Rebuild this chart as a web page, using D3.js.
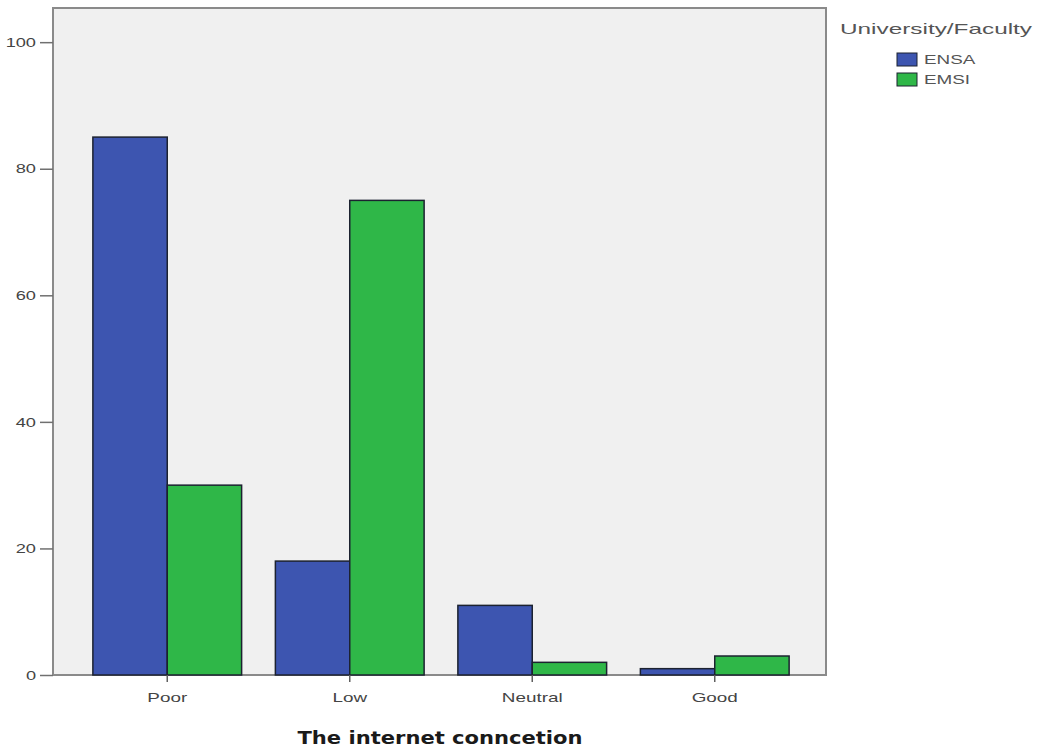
<!DOCTYPE html>
<html>
<head>
<meta charset="utf-8">
<script src="https://cdn.jsdelivr.net/npm/d3@7"></script>
<style>
  html, body { margin: 0; padding: 0; background: #ffffff; }
  svg { display: block; }
</style>
</head>
<body>
<svg id="chart" width="1037" height="751"></svg>
<script>
// Internet connection quality by university/faculty (counts)
const categories = ["Poor", "Low", "Neutral", "Good"];
const seriesNames = ["ENSA", "EMSI"];
const ensaValues = [85, 18, 11, 1];
const emsiValues = [30, 75, 2, 3];
const yTicks = [0, 20, 40, 60, 80, 100];
const colors = ["#3d55b0", "#2fb748"];
const legendTitle = "University/Faculty";
const xTitle = "The internet conncetion";

const rows = categories.map((c, i) => ({ category: c, values: [ensaValues[i], emsiValues[i]] }));

const svg = d3.select("#chart");
const frame = { left: 53, right: 826, top: 8, bottom: 675 };

// widen text horizontally (the chart's labels use a wide rendering)
function stretch(sel, k) {
  sel.each(function () {
    const w = this.getComputedTextLength();
    d3.select(this).attr("textLength", w * k).attr("lengthAdjust", "spacingAndGlyphs");
  });
}

const y = d3.scaleLinear().domain([0, 105.4]).range([frame.bottom, frame.top]);
const x = d3.scaleBand().domain(categories).range([76, 806]).paddingInner(0.185).paddingOuter(0.0925);
const xs = d3.scaleBand().domain(seriesNames).range([0, x.bandwidth()]);

// plot background and frame
svg.append("rect")
  .attr("x", frame.left).attr("y", frame.top)
  .attr("width", frame.right - frame.left).attr("height", frame.bottom - frame.top)
  .attr("fill", "#f0f0f0")
  .attr("stroke", "#8a8a8a").attr("stroke-width", 2);

// bars
const groups = svg.append("g").selectAll("g").data(rows).join("g")
  .attr("transform", d => `translate(${x(d.category)},0)`);
groups.selectAll("rect").data(d => d.values.map((v, i) => ({ v, i }))).join("rect")
  .attr("x", d => xs(seriesNames[d.i]))
  .attr("y", d => y(d.v))
  .attr("width", xs.bandwidth())
  .attr("height", d => y(0) - y(d.v))
  .attr("fill", d => colors[d.i])
  .attr("stroke", "#1c2230").attr("stroke-width", 1.5);

// y axis
const yAxis = svg.append("g")
  .attr("transform", `translate(${frame.left},0)`)
  .call(d3.axisLeft(y).tickValues(yTicks).tickSize(13).tickPadding(4).tickSizeOuter(0));
yAxis.select(".domain").remove();
yAxis.selectAll("line").attr("stroke", "#707070").attr("stroke-width", 1.5);
yAxis.selectAll("text")
  .attr("font-family", "Liberation Sans, Arial, sans-serif")
  .attr("font-size", 13).attr("fill", "#444")
  .call(stretch, 1.4);

// x axis
const xAxis = svg.append("g")
  .attr("transform", `translate(0,${frame.bottom})`)
  .call(d3.axisBottom(x).tickSize(7).tickSizeOuter(0));
xAxis.select(".domain").remove();
xAxis.selectAll("line").attr("stroke", "#606060").attr("stroke-width", 1.5);
xAxis.selectAll("text")
  .attr("font-family", "Liberation Sans, Arial, sans-serif")
  .attr("font-size", 13).attr("fill", "#444").attr("dy", "1.3em")
  .call(stretch, 1.45);

// x axis title
svg.append("text")
  .attr("x", 440).attr("y", 744)
  .attr("text-anchor", "middle")
  .attr("font-family", "DejaVu Sans, sans-serif")
  .attr("font-weight", "bold").attr("font-size", 18).attr("fill", "#1a1a1a")
  .attr("textLength", 285).attr("lengthAdjust", "spacingAndGlyphs")
  .text(xTitle);

// legend
const legend = svg.append("g");
legend.append("text")
  .attr("x", 840).attr("y", 34)
  .attr("font-family", "Liberation Sans, Arial, sans-serif")
  .attr("font-size", 15).attr("fill", "#555")
  .attr("textLength", 192).attr("lengthAdjust", "spacingAndGlyphs")
  .text(legendTitle);
const items = legend.selectAll("g.item").data(seriesNames).join("g")
  .attr("class", "item")
  .attr("transform", (d, i) => `translate(897,${53 + i * 20})`);
items.append("rect")
  .attr("width", 20).attr("height", 13)
  .attr("fill", (d, i) => colors[i])
  .attr("stroke", "#1c2230").attr("stroke-width", 1);
items.append("text")
  .attr("x", 27).attr("y", 11)
  .attr("font-family", "Liberation Sans, Arial, sans-serif")
  .attr("font-size", 13).attr("fill", "#555")
  .text(d => d)
  .call(stretch, 1.45);
</script>
</body>
</html>
